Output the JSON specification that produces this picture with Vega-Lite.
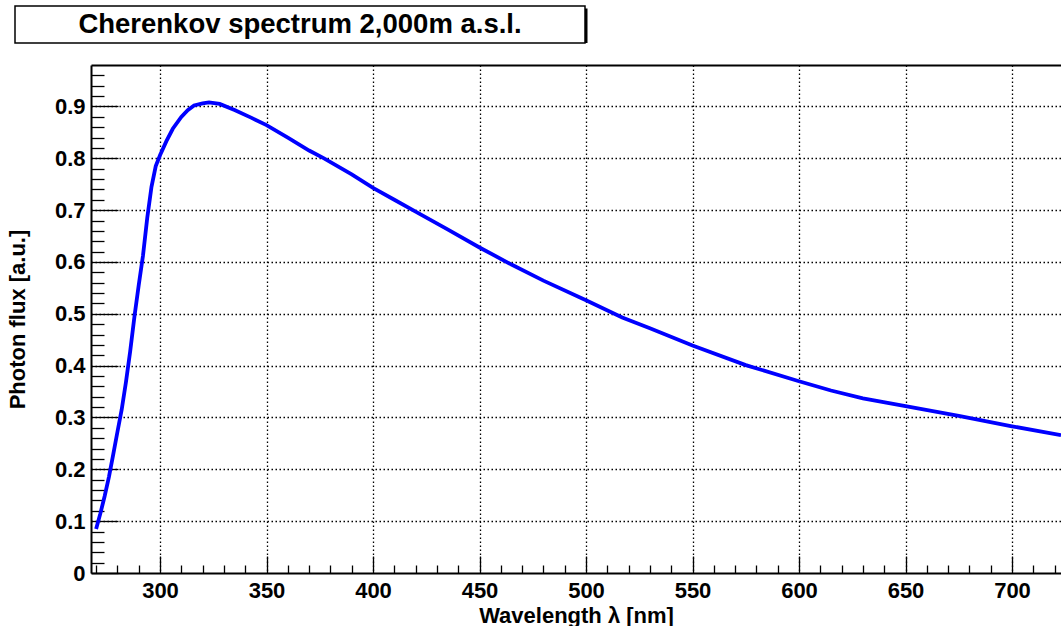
{
  "$schema": "https://vega.github.io/schema/vega-lite/v6.json",
  "background": "white",
  "padding": {"left": 6, "top": 5, "right": 0, "bottom": 0},
  "columns": 1,
  "spacing": 10,
  "config": {
    "font": "Liberation Sans",
    "view": {"stroke": null}
  },
  "concat": [
    {
      "width": 570,
      "height": 37,
      "data": {"values": [{"label": "Cherenkov spectrum 2,000m a.s.l."}]},
      "layer": [
        {
          "mark": {"type": "bar", "orient": "vertical", "width": 570, "fill": "black", "xOffset": -73.5, "yOffset": 2.5}
        },
        {
          "mark": {"type": "bar", "orient": "vertical", "width": 570, "fill": "white", "stroke": "black", "strokeWidth": 1.5, "xOffset": -76}
        },
        {
          "mark": {"type": "text", "font": "Liberation Sans", "fontWeight": "bold", "fontSize": 27.5, "color": "black", "dx": -76, "baseline": "middle", "align": "center"},
          "encoding": {"text": {"field": "label"}}
        }
      ]
    },
    {
      "width": 970,
      "height": 508,
      "data": {
        "values": [
          {"wavelength": 270, "flux": 0.085},
          {"wavelength": 272, "flux": 0.115},
          {"wavelength": 274, "flux": 0.148},
          {"wavelength": 276, "flux": 0.185},
          {"wavelength": 278, "flux": 0.228},
          {"wavelength": 280, "flux": 0.272},
          {"wavelength": 282, "flux": 0.315},
          {"wavelength": 284, "flux": 0.368},
          {"wavelength": 286, "flux": 0.428},
          {"wavelength": 288, "flux": 0.495},
          {"wavelength": 290, "flux": 0.555},
          {"wavelength": 292, "flux": 0.612},
          {"wavelength": 294, "flux": 0.685},
          {"wavelength": 296, "flux": 0.745},
          {"wavelength": 298, "flux": 0.785},
          {"wavelength": 300, "flux": 0.806},
          {"wavelength": 303, "flux": 0.833},
          {"wavelength": 306, "flux": 0.857},
          {"wavelength": 310, "flux": 0.880},
          {"wavelength": 313, "flux": 0.893},
          {"wavelength": 316, "flux": 0.902},
          {"wavelength": 320, "flux": 0.906},
          {"wavelength": 323, "flux": 0.908},
          {"wavelength": 328, "flux": 0.905},
          {"wavelength": 335, "flux": 0.893},
          {"wavelength": 343, "flux": 0.878},
          {"wavelength": 350, "flux": 0.864},
          {"wavelength": 360, "flux": 0.840},
          {"wavelength": 370, "flux": 0.815},
          {"wavelength": 377, "flux": 0.800},
          {"wavelength": 390, "flux": 0.769},
          {"wavelength": 400, "flux": 0.743},
          {"wavelength": 410, "flux": 0.720},
          {"wavelength": 420, "flux": 0.697},
          {"wavelength": 435, "flux": 0.663},
          {"wavelength": 450, "flux": 0.628},
          {"wavelength": 465, "flux": 0.595},
          {"wavelength": 480, "flux": 0.564},
          {"wavelength": 500, "flux": 0.526},
          {"wavelength": 517, "flux": 0.493},
          {"wavelength": 530, "flux": 0.472},
          {"wavelength": 550, "flux": 0.439},
          {"wavelength": 575, "flux": 0.401},
          {"wavelength": 600, "flux": 0.370},
          {"wavelength": 615, "flux": 0.352},
          {"wavelength": 630, "flux": 0.337},
          {"wavelength": 650, "flux": 0.322},
          {"wavelength": 675, "flux": 0.303},
          {"wavelength": 700, "flux": 0.283},
          {"wavelength": 723, "flux": 0.266}
        ]
      },
      "mark": {"type": "line", "color": "#0000ff", "strokeWidth": 3.8, "clip": true},
      "encoding": {
        "x": {
          "field": "wavelength",
          "type": "quantitative",
          "scale": {"domain": [267.6, 723.0], "nice": false, "zero": false},
          "axis": {
            "values": [270, 280, 290, 300, 310, 320, 330, 340, 350, 360, 370, 380, 390, 400, 410, 420, 430, 440, 450, 460, 470, 480, 490, 500, 510, 520, 530, 540, 550, 560, 570, 580, 590, 600, 610, 620, 630, 640, 650, 660, 670, 680, 690, 700, 710, 720],
            "format": "d",
            "labelExpr": "datum.value % 50 === 0 ? datum.label : ''",
            "labelFont": "Liberation Sans",
            "labelFontSize": 22,
            "labelFontWeight": "bold",
            "labelColor": "black",
            "labelPadding": 24,
            "labelFlush": false,
            "labelOverlap": false,
            "title": "Wavelength λ [nm]",
            "titleFont": "Liberation Sans",
            "titleFontSize": 22,
            "titleFontWeight": "bold",
            "titleColor": "black",
            "titlePadding": -5,
            "domainColor": "black",
            "domainWidth": 2,
            "tickColor": "black",
            "tickWidth": 1.3,
            "tickSize": {"condition": {"test": "datum.value % 50 === 0", "value": -17}, "value": -8},
            "grid": true,
            "gridColor": "black",
            "gridWidth": 1.3,
            "gridDash": [1.5, 2.5],
            "gridOpacity": {"condition": {"test": "datum.value % 50 === 0", "value": 1}, "value": 0}
          }
        },
        "y": {
          "field": "flux",
          "type": "quantitative",
          "scale": {"domain": [0, 0.98], "nice": false, "zero": true},
          "axis": {
            "values": [0, 0.02, 0.04, 0.06, 0.08, 0.1, 0.12, 0.14, 0.16, 0.18, 0.2, 0.22, 0.24, 0.26, 0.28, 0.3, 0.32, 0.34, 0.36, 0.38, 0.4, 0.42, 0.44, 0.46, 0.48, 0.5, 0.52, 0.54, 0.56, 0.58, 0.6, 0.62, 0.64, 0.66, 0.68, 0.7, 0.72, 0.74, 0.76, 0.78, 0.8, 0.82, 0.84, 0.86, 0.88, 0.9, 0.92, 0.94, 0.96, 0.98],
            "labelExpr": "abs(datum.value * 10 - round(datum.value * 10)) < 0.000001 && datum.value < 0.95 ? (datum.value === 0 ? '0' : format(datum.value, '.1f')) : ''",
            "labelFont": "Liberation Sans",
            "labelFontSize": 22,
            "labelFontWeight": "bold",
            "labelColor": "black",
            "labelPadding": 33,
            "labelFlush": false,
            "labelOverlap": false,
            "title": "Photon flux [a.u.]",
            "titleFont": "Liberation Sans",
            "titleFontSize": 22,
            "titleFontWeight": "bold",
            "titleColor": "black",
            "titlePadding": 25,
            "domainColor": "black",
            "domainWidth": 2,
            "tickColor": "black",
            "tickWidth": 1.3,
            "tickSize": {"condition": [{"test": "datum.value > 0.97", "value": 0}, {"test": "abs(datum.value * 10 - round(datum.value * 10)) < 0.000001", "value": -27}], "value": -13},
            "grid": true,
            "gridColor": "black",
            "gridWidth": {"condition": {"test": "datum.value > 0.97", "value": 2}, "value": 1.3},
            "gridDash": {"condition": {"test": "datum.value > 0.97", "value": []}, "value": [1.5, 2.5]},
            "gridOpacity": {"condition": [{"test": "datum.value > 0.97", "value": 1}, {"test": "datum.value > 0.05 && abs(datum.value * 10 - round(datum.value * 10)) < 0.000001", "value": 1}], "value": 0}
          }
        }
      }
    }
  ]
}
